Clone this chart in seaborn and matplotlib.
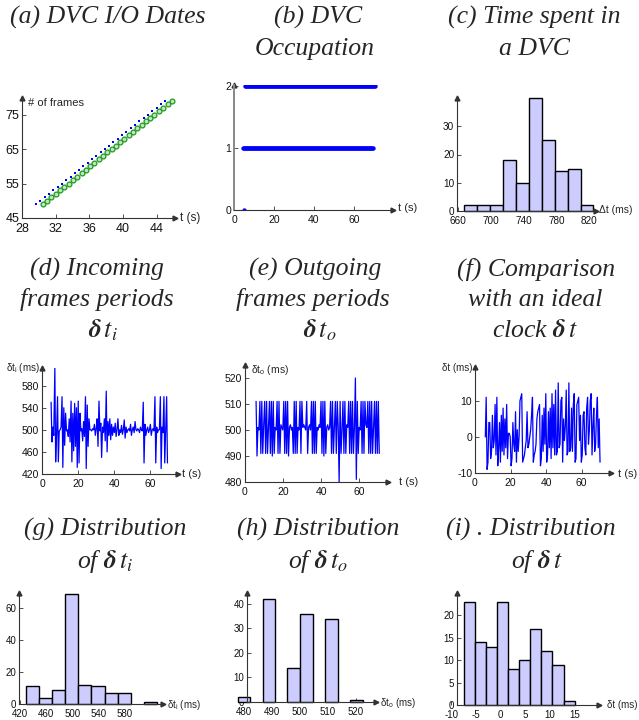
import numpy as np
import pandas as pd
import matplotlib
matplotlib.use("Agg")
import matplotlib.pyplot as plt
import seaborn as sns

W, H = 639, 720

# (a) DVC input / output dates for frames 49..79
frames_a = [49, 50, 51, 52, 53, 54, 55, 56, 57, 58, 59, 60, 61, 62, 63, 64,
            65, 66, 67, 68, 69, 70, 71, 72, 73, 74, 75, 76, 77, 78, 79]
t_in_a = [29.70, 30.20, 30.72, 31.22, 31.74, 32.24, 32.76, 33.26, 33.78, 34.30,
          34.80, 35.30, 35.82, 36.32, 36.84, 37.34, 37.86, 38.38, 38.88, 39.40,
          39.90, 40.42, 40.92, 41.44, 41.96, 42.46, 42.98, 43.50, 44.00, 44.52, 45.04]
t_out_a = [30.48, 31.00, 31.50, 32.02, 32.52, 33.04, 33.54, 34.06, 34.56, 35.08,
           35.60, 36.10, 36.62, 37.12, 37.64, 38.14, 38.66, 39.16, 39.68, 40.18,
           40.70, 41.20, 41.72, 42.24, 42.74, 43.26, 43.76, 44.28, 44.80, 45.32, 45.84]

# incoming frame periods (ms)
dt_in = [550, 478, 505, 490, 612, 442, 490, 560, 442, 498,
         500, 505, 560, 432, 540, 472, 530, 498, 500, 488,
         520, 478, 552, 442, 530, 462, 548, 470, 540, 432,
         552, 440, 530, 498, 502, 480, 515, 488, 560, 430,
         545, 470, 520, 500, 500, 498, 502, 500, 510, 490,
         502, 520, 470, 552, 498, 512, 450, 505, 495, 520,
         480, 570, 460, 515, 490, 520, 482, 510, 490, 505,
         495, 512, 488, 500, 520, 490, 500, 495, 508, 492,
         500, 518, 485, 505, 495, 500, 502, 498, 510, 490,
         500, 505, 495, 515, 500, 498, 502, 500, 495, 505,
         500, 498, 550, 440, 510, 490, 500, 505, 495, 500,
         510, 490, 500, 502, 498, 560, 440, 505, 495, 500,
         500, 560, 430, 505, 495, 560, 440, 500, 560, 440]

# outgoing frame periods (ms)
dt_out = [511, 490, 501, 500, 511, 491, 511, 491, 502, 511,
          491, 511, 491, 501, 511, 491, 511, 490, 511, 491,
          501, 500, 511, 491, 511, 491, 502, 501, 500, 511,
          491, 511, 491, 511, 490, 501, 502, 500, 501, 491,
          511, 491, 511, 491, 501, 500, 511, 491, 511, 501,
          502, 501, 500, 511, 491, 501, 502, 500, 511, 491,
          511, 491, 511, 491, 501, 500, 502, 501, 511, 491,
          511, 490, 511, 491, 501, 502, 500, 501, 511, 491,
          511, 491, 501, 511, 491, 511, 501, 480, 511, 491,
          500, 511, 491, 511, 491, 502, 501, 511, 491, 511,
          491, 511, 491, 501, 520, 481, 511, 491, 501, 500,
          511, 491, 511, 491, 511, 502, 501, 511, 491, 511,
          491, 511, 491, 501, 511, 491, 511, 491, 511, 491]

# deviation from an ideal clock (ms)
clock_dev = [0, 11, -9, -7, 4, 4, -6, -4, 6, -3,
             -1, 9, -5, 11, -8, -3, 4, -7, 6, -4,
             8, -5, 5, -3, 9, -6, 1, 1, 0, -8,
             -6, 4, -2, -4, 7, -7, 2, -4, 0, 10,
             11, 12, -7, -6, -5, -3, -1, 7, -3, -2,
             0, 2, 6, 11, -7, -5, -4, -2, 5, 7,
             8, 9, -8, -6, 6, -4, 8, -2, 12, -7,
             -5, 7, -3, 8, -6, 12, -3, 9, -5, 13,
             -5, -4, 15, -3, -2, 10, 11, -7, 5, -1,
             3, 13, -5, -4, 15, -4, -3, 8, -4, 9,
             12, -7, -6, 9, 10, 11, -1, 6, -7, -5,
             6, 7, -3, -5, 8, 11, -2, 2, 10, 12,
             -5, 3, 8, -4, -2, 6, 11, -3, 5, -7]

t0_in, t0_out, t_empty = 4.5, 5.3, 5.0  # s

# histograms: bin edges and counts
hist_c_edges = [667.7, 683.4, 699.2, 714.9, 730.7, 746.4, 762.2, 777.9, 793.7, 809.4, 825.2]
hist_c_counts = [2, 2, 2, 18, 10, 40, 25, 14, 15, 2]
hist_g_edges = [429, 449, 469, 489, 509, 529, 549, 569, 589, 609, 629]
hist_g_counts = [11, 4, 9, 69, 12, 11, 7, 7, 0, 1]
hist_h_edges = [477.7, 482.2, 486.6, 491.1, 495.5, 500.0, 504.5, 508.9, 513.4, 517.8, 522.3]
hist_h_counts = [2, 0, 42, 0, 14, 36, 0, 34, 0, 1]
hist_i_edges = [-7.41, -5.19, -2.89, -0.67, 1.56, 3.78, 6.00, 8.22, 10.46, 12.73, 14.99]
hist_i_counts = [23, 14, 13, 23, 8, 10, 17, 12, 9, 1]

sns.set_style("ticks")
plt.rcParams["font.family"] = ["Liberation Sans", "DejaVu Sans"]
plt.rcParams["axes.unicode_minus"] = False

AX_COL = "#333333"
BLUE = "#0000ff"
BAR = "#ccccff"

fig = plt.figure(figsize=(W / 100, H / 100), dpi=100)


def px_axes(left, bottom, right, top):
    return fig.add_axes([left / W, 1 - bottom / H, (right - left) / W, (bottom - top) / H])


def ftext(x, y, s, **kw):
    fig.text(x / W, 1 - y / H, s, **kw)


def style_axes(ax, xlim, ylim, xticks, yticks, yaxis_at=None, size=7.5):
    ax.set_xlim(xlim)
    ax.set_ylim(ylim)
    ax.set_xticks(xticks)
    ax.set_yticks(yticks)
    ax.set_xlabel("")
    ax.set_ylabel("")
    sns.despine(ax=ax)
    x0 = xlim[0]
    if yaxis_at is not None:
        x0 = yaxis_at
        ax.spines["left"].set_position(("data", yaxis_at))
        ax.spines["bottom"].set_bounds(yaxis_at, xlim[1])
    for s in ("left", "bottom"):
        ax.spines[s].set_color(AX_COL)
        ax.spines[s].set_linewidth(0.8)
    ax.tick_params(direction="in", length=3, width=0.6, labelsize=size,
                   color=AX_COL, labelcolor="#111111")
    ax.tick_params(axis="x", pad=3.5)
    ax.tick_params(axis="y", pad=2)
    ax.plot([xlim[1]], [ylim[0]], marker=">", ms=3.5, color=AX_COL, clip_on=False)
    ax.plot([x0], [ylim[1]], marker="^", ms=3.5, color=AX_COL, clip_on=False)
    ax.patch.set_alpha(0)


def hist_panel(ax, edges, counts):
    edges = np.asarray(edges, dtype=float)
    centers = (edges[:-1] + edges[1:]) / 2
    values = np.repeat(centers, counts)
    sns.histplot(x=values, bins=list(edges), ax=ax, color=BAR,
                 edgecolor="black", linewidth=1.0, alpha=1)
    for p in list(ax.patches):
        if p.get_height() == 0:
            p.remove()
        else:
            p.set_clip_on(False)


# derived time stamps
t_in = t0_in + np.concatenate([[0], np.cumsum(dt_in)]) / 1000
t_out = t0_out + np.concatenate([[0], np.cumsum(dt_out)]) / 1000

# ---- (a)
ax = px_axes(22, 218, 175, 98)
sns.scatterplot(x=t_in_a, y=frames_a, ax=ax, marker="s", s=4, color=BLUE, linewidth=0)
sns.scatterplot(x=t_out_a, y=frames_a, ax=ax, marker="o", s=12, facecolor="#bfe6bf",
                edgecolor="#1f9a1f", linewidth=0.9)
style_axes(ax, (28, 46.2), (45, 79.8), [28, 32, 36, 40, 44], [45, 55, 65, 75], size=9)
ftext(28, 103, "# of frames", fontsize=8, va="center")
ftext(180, 218, "t (s)", fontsize=8.5, va="center")

# ---- (b)
occ = pd.DataFrame({
    "t": np.concatenate([t_in, t_out, [t_empty]]),
    "occ": [1] * len(t_in) + [2] * len(t_out) + [0],
})
ax = px_axes(234, 210, 393, 85)
sns.scatterplot(data=occ, x="t", y="occ", ax=ax, s=10, color=BLUE, linewidth=0)
style_axes(ax, (0, 79.5), (0, 2.02), [0, 20, 40, 60], [0, 1, 2], size=7.5)
ax.spines["left"].set_color("#888888")
ax.spines["left"].set_linewidth(1.4)
ftext(398, 208, "t (s)", fontsize=8, va="center")

# ---- (c)
ax = px_axes(457, 211, 596, 98)
hist_panel(ax, hist_c_edges, hist_c_counts)
style_axes(ax, (658.8, 828.3), (0, 40), [660, 700, 740, 780, 820], [0, 10, 20, 30], size=7.2)
ftext(599, 210, "\u0394t (ms)", fontsize=7.5, va="center")

# ---- (d)
ax = px_axes(42, 474, 178, 368)
sns.lineplot(x=t_in[1:], y=dt_in, ax=ax, color=BLUE, lw=0.9, estimator=None)
style_axes(ax, (0, 75.5), (420, 612), [0, 20, 40, 60], [420, 460, 500, 540, 580], size=7.5)
ftext(40, 368, "\u03b4t$_\\mathregular{i}$ (ms)", fontsize=7, va="center", ha="right")
ftext(182, 474, "t (s)", fontsize=8, va="center")

# ---- (e)
ax = px_axes(245, 482, 388, 365)
sns.lineplot(x=t_out[1:], y=dt_out, ax=ax, color=BLUE, lw=0.9, estimator=None)
style_axes(ax, (0, 75), (480, 525), [0, 20, 40, 60], [480, 490, 500, 510, 520], size=7.5)
ftext(251, 370, "\u03b4t$_\\mathregular{o}$ (ms)", fontsize=7.5, va="center")
ftext(399, 482, "t (s)", fontsize=8, va="center")

# ---- (f)
ax = px_axes(475, 473, 611, 367)
sns.lineplot(x=t_out[1:], y=clock_dev, ax=ax, color=BLUE, lw=0.9, estimator=None)
style_axes(ax, (0, 76.6), (-10, 19.4), [0, 20, 40, 60], [-10, 0, 10], size=7.5)
ftext(473, 368, "\u03b4t (ms)", fontsize=7, va="center", ha="right")
ftext(618, 474, "t (s)", fontsize=8, va="center")

# ---- (g)
ax = px_axes(19, 704, 163, 593)
hist_panel(ax, hist_g_edges, hist_g_counts)
style_axes(ax, (418.5, 638), (0, 69.5), [420, 460, 500, 540, 580], [0, 20, 40, 60], size=7)
ftext(167, 705, "\u03b4t$_\\mathregular{i}$ (ms)", fontsize=7, va="center")

# ---- (h)
ax = px_axes(235.6, 702, 376, 593)
hist_panel(ax, hist_h_edges, hist_h_counts)
style_axes(ax, (477, 527.1), (0, 44.4), [480, 490, 500, 510, 520], [0, 10, 20, 30, 40],
           yaxis_at=481.1, size=7)
ftext(380, 703, "\u03b4t$_\\mathregular{o}$ (ms)", fontsize=7, va="center")

# ---- (i)
ax = px_axes(448.7, 705, 599, 593)
hist_panel(ax, hist_i_edges, hist_i_counts)
style_axes(ax, (-10.5, 19.9), (0, 24.9), [-10, -5, 0, 5, 10, 15], [0, 5, 10, 15, 20],
           yaxis_at=-8.8, size=7)
ftext(607, 705, "\u03b4t (ms)", fontsize=7, va="center")

# ---- titles
title_kw = dict(fontfamily="Liberation Serif", style="italic", fontsize=18.5,
                ha="center", va="baseline", math_fontfamily="stix")
d_i = r"$\boldsymbol{\delta}\,t_i$"
d_o = r"$\boldsymbol{\delta}\,t_o$"
d_t = r"$\boldsymbol{\delta}\,t$"
titles = [
    (108, 24, "(a) DVC I/O Dates"),
    (318, 24, "(b) DVC"), (315, 55, "Occupation"),
    (534, 24, "(c) Time spent in"), (534, 55, "a DVC"),
    (97, 276, "(d) Incoming"), (97, 306, "frames periods"), (103, 337, d_i),
    (315, 276, "(e) Outgoing"), (313, 306, "frames periods"), (320, 337, d_o),
    (536, 276, "(f) Comparison"), (535, 306, "with an ideal"), (535, 337, "clock " + d_t),
    (105, 536, "(g) Distribution"), (105, 568, "of " + d_i),
    (318, 536, "(h) Distribution"), (318, 568, "of " + d_o),
    (531, 536, "(i) . Distribution"), (537, 568, "of " + d_t),
]
for x, y, s in titles:
    ftext(x, y, s, **title_kw)

fig.savefig("out.png", dpi=100)
